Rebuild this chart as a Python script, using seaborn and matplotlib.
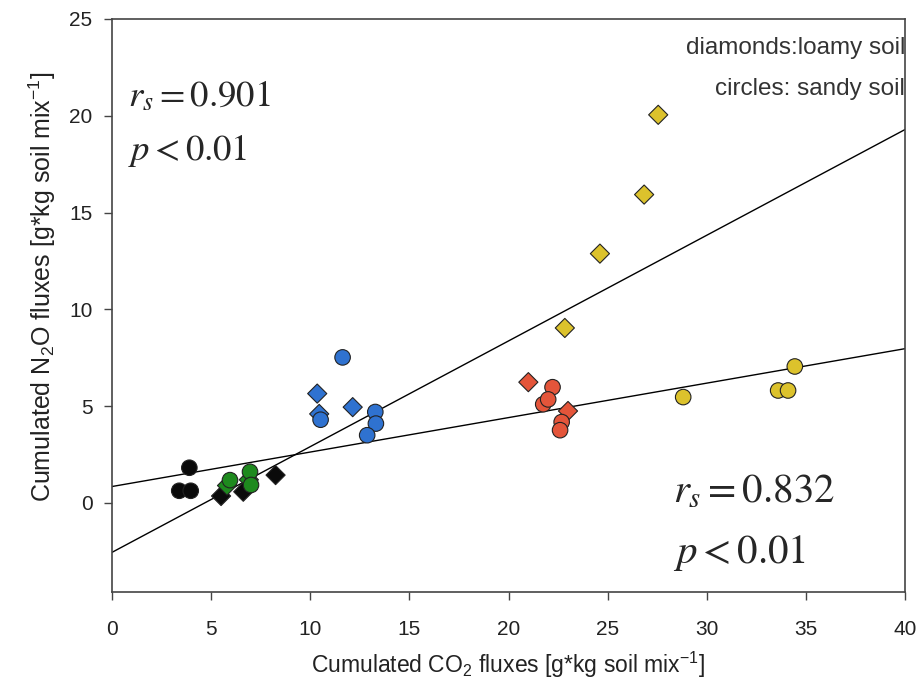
import matplotlib
matplotlib.use("Agg")
import matplotlib.pyplot as plt
import seaborn as sns
import pandas as pd
import numpy as np

# ---------------- data ----------------
black_circ_x = [3.90, 3.39, 3.97]
black_circ_y = [1.82, 0.63, 0.63]
black_diam_x = [5.50, 6.62, 8.25]
black_diam_y = [0.36, 0.58, 1.44]

green_circ_x = [5.95, 6.96, 7.01]
green_circ_y = [1.18, 1.61, 0.93]
green_diam_x = [5.80, 6.90]
green_diam_y = [0.90, 1.20]

blue_circ_x = [11.63, 10.52, 13.28, 13.31, 12.87]
blue_circ_y = [7.52, 4.30, 4.70, 4.10, 3.50]
blue_diam_x = [10.35, 10.45, 12.14]
blue_diam_y = [5.65, 4.60, 4.95]

red_circ_x = [22.22, 21.75, 22.00, 22.68, 22.60]
red_circ_y = [5.98, 5.10, 5.35, 4.18, 3.76]
red_diam_x = [21.00, 23.00]
red_diam_y = [6.24, 4.75]

yellow_circ_x = [28.81, 33.60, 34.10, 34.44]
yellow_circ_y = [5.47, 5.81, 5.81, 7.05]
yellow_diam_x = [22.84, 24.61, 26.84, 27.55]
yellow_diam_y = [9.04, 12.88, 15.93, 20.05]

# regression lines: intercept, slope
loamy_line = (-2.55, 0.546)
sandy_line = (0.85, 0.178)

x_ticks = [0, 5, 10, 15, 20, 25, 30, 35, 40]
y_ticks = [0, 5, 10, 15, 20, 25]

palette = {"black": "#0a0a0a", "green": "#1e8a1e", "blue": "#2f72d0",
           "red": "#e4553a", "yellow": "#dcc22c"}

rows = []
for name, cx, cy, dx, dy in [
    ("black", black_circ_x, black_circ_y, black_diam_x, black_diam_y),
    ("green", green_circ_x, green_circ_y, green_diam_x, green_diam_y),
    ("blue", blue_circ_x, blue_circ_y, blue_diam_x, blue_diam_y),
    ("red", red_circ_x, red_circ_y, red_diam_x, red_diam_y),
    ("yellow", yellow_circ_x, yellow_circ_y, yellow_diam_x, yellow_diam_y),
]:
    for x, y in zip(dx, dy):
        rows.append(dict(group=name, soil="loamy", co2=x, n2o=y))
    for x, y in zip(cx, cy):
        rows.append(dict(group=name, soil="sandy", co2=x, n2o=y))
df = pd.DataFrame(rows)

# ---------------- style ----------------
sns.set_style("ticks")
plt.rcParams["font.family"] = ["Liberation Sans", "DejaVu Sans"]
plt.rcParams["mathtext.fontset"] = "custom"
plt.rcParams["mathtext.rm"] = "Liberation Sans"
plt.rcParams["mathtext.it"] = "Liberation Sans:italic"

fig = plt.figure(figsize=(9.19, 6.88), dpi=100)
ax = fig.add_axes([0.1219, 0.1395, 0.8629, 0.8329])

# regression lines
xl = np.array([0, 40])
for b0, b1 in (loamy_line, sandy_line):
    ax.plot(xl, b0 + b1 * xl, color="black", lw=1.0, zorder=1)

sns.scatterplot(data=df[df.soil == "loamy"], x="co2", y="n2o", hue="group",
                palette=palette, marker="D", s=95, edgecolor="#222222",
                linewidth=0.8, legend=False, ax=ax, zorder=3)
sns.scatterplot(data=df[df.soil == "sandy"], x="co2", y="n2o", hue="group",
                palette=palette, marker="o", s=125, edgecolor="#222222",
                linewidth=0.8, legend=False, ax=ax, zorder=3)

ax.set_xlim(0, 40)
ax.set_ylim(-4.6, 25)
ax.set_xticks(x_ticks)
ax.set_yticks(y_ticks)
ax.set_xticklabels([str(t) for t in x_ticks], fontsize=15, color="#222222")
ax.set_yticklabels([str(t) for t in y_ticks], fontsize=15, color="#222222")
ax.tick_params(direction="out", length=6, width=1, colors="#444444", labelcolor="#222222")
ax.tick_params(axis="x", pad=14)
ax.tick_params(axis="y", pad=8)
for sp in ax.spines.values():
    sp.set_color("#444444")
    sp.set_linewidth(1.2)

ax.set_xlabel("Cumulated CO$_2$ fluxes [g*kg soil mix$^{-1}$]", fontsize=16.5,
              labelpad=8, color="#222222")
ax.set_ylabel("Cumulated N$_2$O fluxes [g*kg soil mix$^{-1}$]", fontsize=18,
              color="#222222")
ax.yaxis.set_label_coords(-0.068, 0.532)

ax.text(1.0, 0.949, "diamonds:loamy soil", transform=ax.transAxes, ha="right",
        va="center", fontsize=17.5, color="#333333", clip_on=True)
ax.text(1.0, 0.877, "circles: sandy soil", transform=ax.transAxes, ha="right",
        va="center", fontsize=17.5, color="#333333", clip_on=True)

ax.text(0.8, 20.5, r"$r_s = 0.901$", fontsize=26.5, math_fontfamily="stix", va="baseline")
ax.text(0.8, 17.7, r"$p < 0.01$", fontsize=26.5, math_fontfamily="stix", va="baseline")
ax.text(28.3, 0.0, r"$r_s = 0.832$", fontsize=29.5, math_fontfamily="stix", va="baseline")
ax.text(28.3, -3.1, r"$p < 0.01$", fontsize=29.5, math_fontfamily="stix", va="baseline")

fig.savefig("out.png", dpi=100)
